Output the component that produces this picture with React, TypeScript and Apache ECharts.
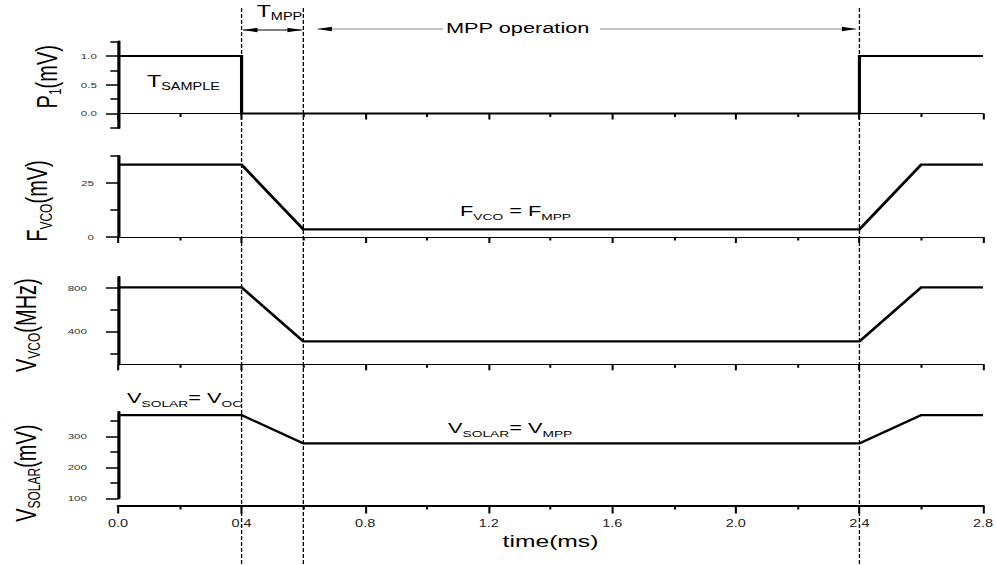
import React, { useEffect, useRef } from 'react';
import * as echarts from 'echarts';

// ---- data ----
const time = [0, 0.4, 0.6, 2.4, 2.6, 2.8];
const pulseTime = [0, 0.4, 0.4, 2.4, 2.4, 2.8];
const pulseValues = [1, 1, 0, 0, 1, 1];
const fvcoValues = [33.5, 33.5, 3.5, 3.5, 33.5, 33.5];
const vvcoValues = [805, 805, 310, 310, 805, 805];
const vsolarValues = [370, 370, 278, 278, 370, 370];
const markerTimes = [0.4, 0.6, 2.4];

const yMins = [-0.25, 0, 100, 100];
const yMaxs = [1.25, 37.5, 900, 380];
const yMajorTicks = [[0, 0.5, 1], [0, 25], [400, 800], [100, 200, 300]];
const yMinorTicks = [[-0.25, 0.25, 0.75, 1.25], [12.5, 37.5], [200, 600], [150, 250, 350]];

// ---- layout (the whole figure is horizontally stretched) ----
const S = 1.45;
const W = Math.floor(996 / S);
const H = 565;
const FONT = 'Liberation Sans, Arial, Helvetica, sans-serif';
const gridTops = [41.6, 156, 277, 412];
const gridHeights = [86.3, 81, 87.3, 86.3];
const labelMargins = [14.5, 16.5, 21.4, 21.4];
const nameGaps = [39.5, 46, 54, 54];
const namePads = [[0, 0, 0, 16], [0, 9, 0, 0], [0, 9, 0, 0], [0, 36, 0, 0]];
const yNames = ['{m|P}{s|1}{m|(mV)}', '{m|F}{s|VCO}{m|(mV)}', '{m|V}{s|VCO}{m|(MHz)}', '{m|V}{s|SOLAR}{m|(mV)}'];

const richFor = (F: number, f: number, shift: number) => ({
  m: { fontSize: F, lineHeight: F, verticalAlign: 'top', fontFamily: FONT, color: '#000' },
  s: {
    fontSize: f,
    lineHeight: f,
    verticalAlign: 'top',
    fontFamily: FONT,
    color: '#000',
    padding: [shift + (F - f) / 2, 0, 0, 0],
  },
});

export default function App() {
  const ref = useRef<HTMLDivElement>(null);

  useEffect(() => {
    if (!ref.current) return;
    const chart = echarts.init(ref.current, null, { renderer: 'svg' });
    const left = 118 / S;
    const right = W - 983 / S;

    const grids = gridTops.map((top, i) => ({
      left,
      right,
      top,
      height: gridHeights[i],
      containLabel: false,
      outerBoundsMode: 'none',
    }));

    const xAxes = gridTops.map((_, i) => {
      const last = i === 3;
      return {
        type: 'value',
        gridIndex: i,
        min: 0,
        max: 2.8,
        interval: 0.4,
        offset: last ? 7.2 : 0,
        axisLine: { show: true, onZero: !last, lineStyle: { color: '#000', width: last ? 2 : 1 } },
        axisTick: { show: true, length: last ? 8 : 6, lineStyle: { color: '#000', width: 1.4 } },
        minorTick: { show: true, splitNumber: 2, length: last ? 4 : 3.5, lineStyle: { color: '#000', width: 1.4 } },
        splitLine: { show: false },
        minorSplitLine: { show: false },
        axisLabel: {
          show: last,
          margin: 13.5,
          fontSize: 10,
          fontFamily: FONT,
          color: '#222',
          formatter: (v: number) => v.toFixed(1),
        },
        name: last ? 'time(ms)' : '',
        nameLocation: 'middle',
        nameGap: 27,
        nameTextStyle: { fontSize: 17, fontFamily: FONT, color: '#000' },
      };
    });

    const yMajor = gridTops.map((_, i) => ({
      type: 'value',
      gridIndex: i,
      position: 'left',
      min: yMins[i],
      max: yMaxs[i],
      axisLine: { show: true, onZero: false, lineStyle: { color: '#000', width: 2.2 } },
      axisTick: { show: true, customValues: yMajorTicks[i], length: 8.3, lineStyle: { color: '#000', width: 1.5 } },
      axisLabel: {
        show: true,
        customValues: yMajorTicks[i],
        margin: labelMargins[i],
        fontSize: 8,
        fontFamily: FONT,
        color: '#333',
        formatter: (v: number) => (i === 0 ? v.toFixed(1) : String(v)),
      },
      splitLine: { show: false },
      name: yNames[i],
      nameLocation: 'middle',
      nameRotate: 90,
      nameGap: nameGaps[i],
      nameTextStyle: {
        fontFamily: FONT,
        color: '#000',
        padding: namePads[i],
        rich: richFor(20, 12, 6),
      },
    }));

    const yMinor = gridTops.map((_, i) => ({
      type: 'value',
      gridIndex: i,
      position: 'left',
      min: yMins[i],
      max: yMaxs[i],
      axisLine: { show: false },
      axisTick: { show: true, customValues: yMinorTicks[i], length: 5.3, lineStyle: { color: '#000', width: 1.5 } },
      axisLabel: { show: false },
      splitLine: { show: false },
    }));

    const seriesData = [
      pulseTime.map((t, k) => [t, pulseValues[k]]),
      time.map((t, k) => [t, fvcoValues[k]]),
      time.map((t, k) => [t, vvcoValues[k]]),
      time.map((t, k) => [t, vsolarValues[k]]),
    ];

    const series = seriesData.map((data, i) => ({
      type: 'line',
      xAxisIndex: i,
      yAxisIndex: i,
      data,
      showSymbol: false,
      symbol: 'none',
      clip: false,
      lineStyle: { color: '#000', width: 2.2, join: 'miter' },
    }));

    chart.setOption({
      animation: false,
      backgroundColor: '#fff',
      grid: grids,
      xAxis: xAxes,
      yAxis: [...yMajor, ...yMinor],
      series,
    });

    const px = (t: number) => chart.convertToPixel({ xAxisIndex: 0 }, t) as number;
    const [x04, x06, x24] = markerTimes.map(px);

    const head = (tip: number, y: number, dir: number, len: number, h: number, color: string) => ({
      type: 'polygon',
      shape: { points: [[tip, y], [tip + dir * len, y - h], [tip + dir * len, y + h]] },
      style: { fill: color },
      silent: true,
    });

    const annText = (sx: number, capCenter: number, text: string, F: number, f: number) => ({
      type: 'text',
      x: sx / S,
      y: capCenter - F / 2,
      silent: true,
      style: {
        text,
        rich: richFor(F, f, 6),
        fill: '#000',
        align: 'left',
        verticalAlign: 'top',
        fontFamily: FONT,
      },
    });

    const graphic: any[] = [];
    markerTimes.map(px).forEach((x) => {
      graphic.push({
        type: 'line',
        silent: true,
        shape: { x1: x, y1: 8, x2: x, y2: 565 },
        style: { stroke: '#000', lineWidth: 0.9, lineDash: [4, 2] },
      });
    });

    // T_MPP double arrow
    const ay = 30;
    graphic.push({
      type: 'line',
      silent: true,
      shape: { x1: x04 + 1, y1: ay, x2: x06 - 1, y2: ay },
      style: { stroke: '#000', lineWidth: 1 },
    });
    graphic.push(head(x04 + 1, ay, 1, 10, 2.2, '#000'));
    graphic.push(head(x06 - 1, ay, -1, 10, 2.2, '#000'));

    // MPP operation arrow
    const my = 29;
    const lTip = x06 + 14 / S;
    graphic.push({
      type: 'line',
      silent: true,
      shape: { x1: lTip, y1: my, x2: 443 / S, y2: my },
      style: { stroke: '#888', lineWidth: 0.8 },
    });
    graphic.push(head(lTip, my, 1, 10, 2.2, '#000'));
    const rTip = x24 - 3 / S;
    graphic.push({
      type: 'line',
      silent: true,
      shape: { x1: 600 / S, y1: my, x2: rTip, y2: my },
      style: { stroke: '#888', lineWidth: 0.8 },
    });
    graphic.push(head(rTip, my, -1, 10, 2.2, '#000'));

    graphic.push({
      type: 'text',
      x: 446 / S,
      y: 28,
      silent: true,
      style: {
        text: 'MPP operation',
        fill: '#000',
        fontSize: 15,
        fontFamily: FONT,
        align: 'left',
        verticalAlign: 'middle',
      },
    });

    graphic.push(annText(256.7, 11, '{m|T}{s|MPP}', 16, 10));
    graphic.push(annText(147, 81, '{m|T}{s|SAMPLE}', 16, 10));
    graphic.push(annText(460, 210.5, '{m|F}{s|VCO}{m| = F}{s|MPP}', 15, 9.5));
    graphic.push(annText(448, 428, '{m|V}{s|SOLAR}{m|= V}{s|MPP}', 15, 9.5));
    graphic.push(annText(127, 398, '{m|V}{s|SOLAR}{m|= V}{s|OC}', 15, 9.5));

    chart.setOption({ graphic });

    return () => chart.dispose();
  }, []);

  return (
    <div
      ref={ref}
      style={{
        position: 'absolute',
        left: 0,
        top: 0,
        width: W,
        height: H,
        transform: `scaleX(${S})`,
        transformOrigin: '0 0',
        background: '#fff',
      }}
    />
  );
}
